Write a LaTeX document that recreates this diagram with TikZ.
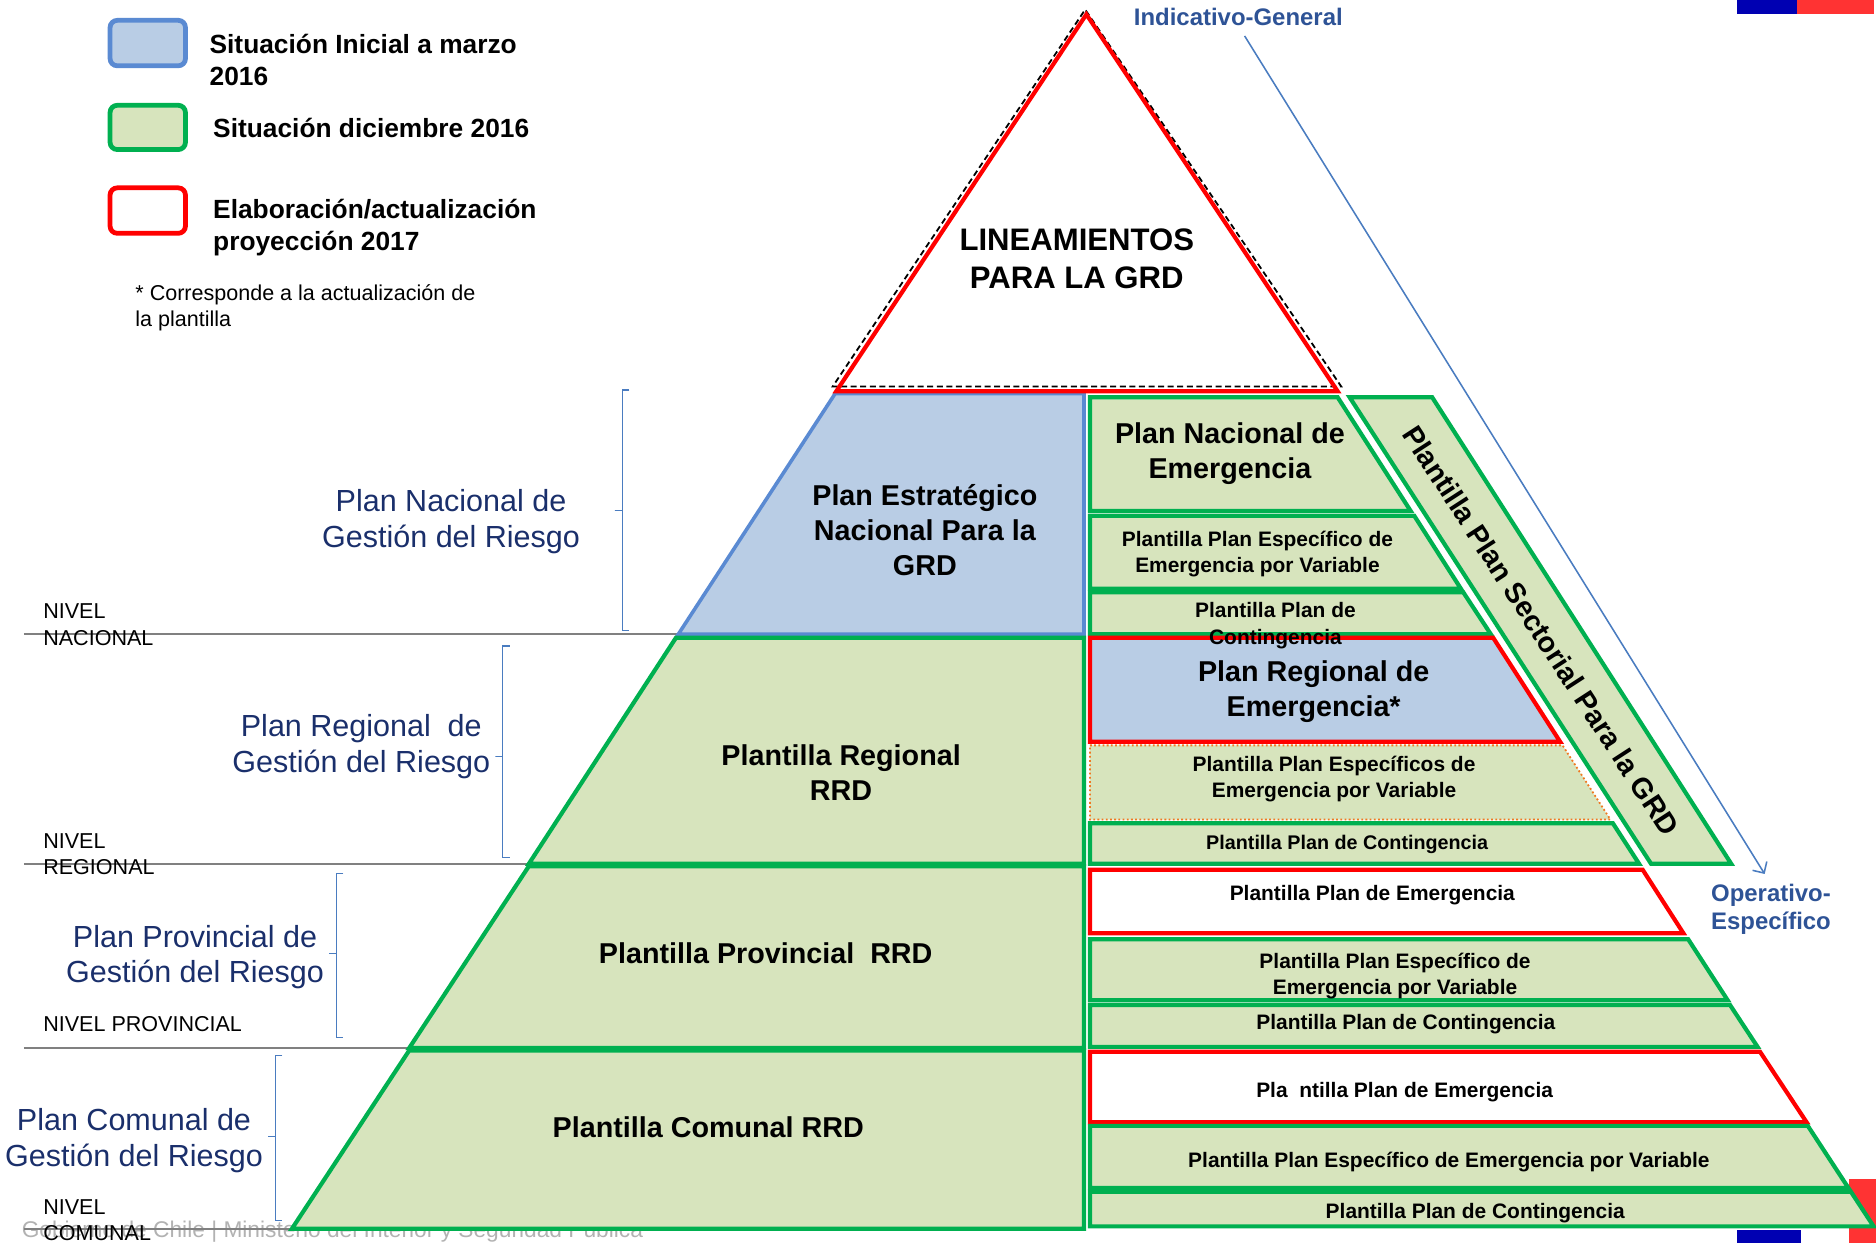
\documentclass[tikz,border=0pt]{standalone}
\usepackage{fontspec}
\setmainfont{Liberation Sans}
\usetikzlibrary{arrows.meta}
\definecolor{verdeborde}{HTML}{00B050}
\definecolor{verdefondo}{HTML}{D7E4BD}
\definecolor{azulborde}{HTML}{5A8AD2}
\definecolor{azulfondo}{HTML}{B9CDE5}
\definecolor{rojo}{HTML}{FF0000}
\definecolor{marino}{HTML}{1A2F6B}
\definecolor{azulflecha}{HTML}{4A7CC0}
\definecolor{indicativo}{HTML}{2E5396}
\definecolor{naranja}{HTML}{F07820}
\begin{document}
\begin{tikzpicture}[x=1pt,y=-1pt,
  greenbox/.style={draw=verdeborde,fill=verdefondo,line width=3.5pt},
  bluebox/.style={draw=azulborde,fill=azulfondo,line width=3pt},
  redbox/.style={draw=rojo,fill=white,line width=3.5pt},
  legbox/.style={rounded corners=6pt,line width=4pt},
  tituloA/.style={font=\fontsize{24}{29}\selectfont\bfseries,align=center,inner sep=0pt},
  tituloB/.style={font=\fontsize{17.5}{22}\selectfont\bfseries,align=center,inner sep=0pt},
  planlbl/.style={font=\fontsize{25.5}{30}\selectfont,text=marino,align=center,inner sep=0pt},
  nivel/.style={font=\fontsize{18}{22}\selectfont,anchor=west,align=left,inner sep=0pt},
  legtxt/.style={font=\fontsize{22}{27}\selectfont\bfseries,anchor=west,align=left,inner sep=0pt},
  eje/.style={font=\fontsize{20}{23}\selectfont\bfseries,text=indicativo,inner sep=0pt},
  corchete/.style={draw=azulflecha,line width=1pt},
  nivelline/.style={draw=gray,line width=1.5pt},
  flecha/.style={draw=azulflecha,line width=1.3pt,-{Straight Barb[length=7pt,width=14pt]}}]
\useasboundingbox (0,0) rectangle (1568,1039);

% pie de pagina y banderas
\node[font=\fontsize{19}{22}\selectfont,text=black!30,anchor=west,inner sep=0pt] (pie) at (18,1029)
  {Gobierno de Chile | Ministerio del Interior y Seguridad Pública};
\fill[blue!70!black] (1452,0) rectangle (1502,12);
\fill[red!80] (1502,0) rectangle (1566,12);
\fill[red!80] (1545,985) rectangle (1568,1039);
\fill[blue!70!black] (1452,1028) rectangle (1505,1039);

% leyenda
\draw[legbox,draw=azulborde,fill=azulfondo] (92,17) rectangle (155,55);
\draw[legbox,draw=verdeborde,fill=verdefondo] (92,88) rectangle (155,125);
\draw[legbox,draw=rojo,fill=white] (92,157) rectangle (155,195);
\node[legtxt] (leg1) at (175,50) {Situación Inicial a marzo\\2016};
\node[legtxt] (leg2) at (178,107) {Situación diciembre 2016};
\node[legtxt] (leg3) at (178,190) {Elaboración/actualización\\proyección 2017};
\node[font=\fontsize{18}{22}\selectfont,anchor=west,align=left,inner sep=0pt] (nota) at (113,257)
  {* Corresponde a la actualización de\\la plantilla};

% lineas de nivel
\draw[nivelline] (20,530) -- (567,530);
\draw[nivelline] (20,722) -- (442,722);
\draw[nivelline] (20,876) -- (342,876);
\draw[nivelline] (20,1027) -- (246,1027);
\node[nivel] (nvnac) at (36,522) {NIVEL\\NACIONAL};
\node[nivel] (nvreg) at (36,714) {NIVEL\\REGIONAL};
\node[nivel] (nvprov) at (36,856) {NIVEL PROVINCIAL};
\node[nivel] (nvcom) at (36,1020) {NIVEL\\COMUNAL};

% corchetes
\foreach \x/\t/\m/\b in {520/326/427/527, 420/540/632/717, 281/730/797/867, 230/882/950/1020}
  \draw[corchete] (\x+6,\t) -- (\x,\t) -- (\x,\m) -- (\x-6,\m) -- (\x,\m) -- (\x,\b) -- (\x+6,\b);
\node[planlbl] (lblnac) at (377,436) {Plan Nacional de\\Gestión del Riesgo};
\node[planlbl] (lblreg) at (302,624) {Plan Regional\ \ de\\Gestión del Riesgo};
\node[planlbl] (lblprov) at (163,800) {Plan Provincial de\\Gestión del Riesgo};
\node[planlbl] (lblcom) at (112,953) {Plan Comunal de\\Gestión del Riesgo};

% columna izquierda
\draw[bluebox] (698,329) -- (906,329) -- (906,530) -- (567,530) -- cycle;
\draw[greenbox] (565,533) -- (906,533) -- (906,722) -- (442,722) -- cycle;
\draw[greenbox] (442,724) -- (906,724) -- (906,876) -- (342,876) -- cycle;
\draw[greenbox] (342,878) -- (906,878) -- (906,1027) -- (244,1027) -- cycle;

% columna derecha
\draw[greenbox] (911,332) -- (1118,332) -- (1179,427) -- (911,427) -- cycle;
\draw[greenbox] (911,431) -- (1182,431) -- (1221,492) -- (911,492) -- cycle;
\draw[greenbox] (911,495) -- (1223,495) -- (1246,530) -- (911,530) -- cycle;
\draw[redbox,fill=azulfondo] (911,533) -- (1248,533) -- (1304,620) -- (911,620) -- cycle;
\draw[fill=verdefondo,draw=naranja,line width=1.5pt,dotted] (911,623) -- (1306,623) -- (1346,685) -- (911,685) -- cycle;
\draw[greenbox] (911,688) -- (1348,688) -- (1370,722) -- (911,722) -- cycle;
\draw[redbox] (911,727) -- (1373,727) -- (1407,780) -- (911,780) -- cycle;
\draw[greenbox] (911,785) -- (1411,785) -- (1444,836) -- (911,836) -- cycle;
\draw[greenbox] (911,840) -- (1446,840) -- (1469,875) -- (911,875) -- cycle;
\draw[redbox] (911,879) -- (1471,879) -- (1510,938) -- (911,938) -- cycle;
\draw[greenbox] (911,941) -- (1511,941) -- (1545,993) -- (911,993) -- cycle;
\draw[greenbox] (911,996) -- (1547,996) -- (1566,1025) -- (911,1025) -- cycle;

% franja sectorial
\draw[greenbox] (1128,332) -- (1197,332) -- (1447,722) -- (1380,722) -- cycle;

% triangulo superior
\draw[line width=1.5pt,dash pattern=on 5pt off 3pt] (908,323) -- (696,323) -- (907,8) -- (1121,323) -- cycle;
\draw[draw=rojo,line width=3.5pt] (699,327) -- (908,12) -- (1118,327) -- cycle;

% textos de la piramide
\node[tituloA,font=\fontsize{26}{32}\selectfont\bfseries] (lineam) at (900,216) {LINEAMIENTOS\\PARA LA GRD};
\node[tituloA] (pen) at (773,443) {Plan Estratégico\\Nacional Para la\\GRD};
\node[tituloA] (preg) at (703,646) {Plantilla Regional\\RRD};
\node[tituloA] (pprov) at (640,797) {Plantilla Provincial\ \ RRD};
\node[tituloA] (pcom) at (592,942) {Plantilla Comunal RRD};
\node[tituloA] (pne) at (1028,379) {Plan Nacional de\\Emergencia};
\node[tituloB] (ppev1) at (1051,463) {Plantilla Plan Específico de\\Emergencia por Variable};
\node[tituloB] (ppc1) at (1066,523) {Plantilla Plan de\\Contingencia};
\node[tituloA] (pre) at (1098,578) {Plan Regional de\\Emergencia*};
\node[tituloB] (ppev2) at (1115,651) {Plantilla Plan Específicos de\\Emergencia por Variable};
\node[tituloB,font=\fontsize{16.5}{20}\selectfont\bfseries] (ppc2) at (1126,706) {Plantilla Plan de Contingencia};
\node[tituloB] (ppe3) at (1147,748) {Plantilla Plan de Emergencia};
\node[tituloB] (ppev3) at (1166,816) {Plantilla Plan Específico de\\Emergencia por Variable};
\node[tituloB] (ppc3) at (1175,856) {Plantilla Plan de Contingencia};
\node[tituloB] (ppe4) at (1174,913) {Pla\ \ ntilla Plan de Emergencia};
\node[tituloB] (ppev4) at (1211,971) {Plantilla Plan Específico de Emergencia por Variable};
\node[tituloB] (ppc4) at (1233,1014) {Plantilla Plan de Contingencia};
\node[tituloA,rotate=-57] (sectorial) at (1288,527) {Plantilla Plan Sectorial Para la GRD};

% eje indicativo - operativo
\node[eje] (indic) at (1035,14) {Indicativo-General};
\node[eje,anchor=west,align=left] (operat) at (1430,760) {Operativo-\\Específico};
\draw[flecha,shorten <=10pt,shorten >=10pt] (indic.south) -- (operat.north);
\end{tikzpicture}
\end{document}
